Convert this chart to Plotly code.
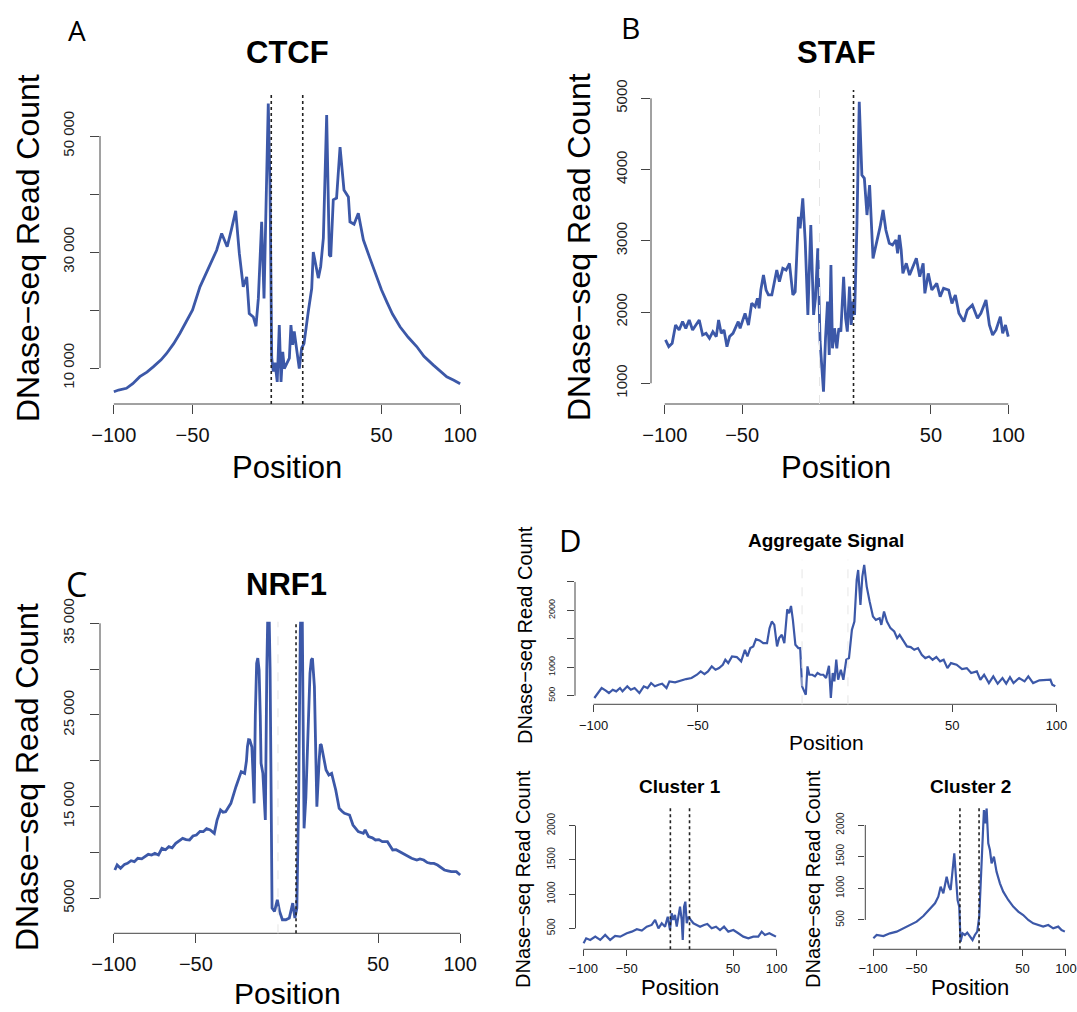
import plotly.graph_objects as go

W, H = 1077, 1012
BLUE = "#3c58a8"
AXIS = "#444444"
FONT = "Liberation Sans"
LETTER_FONT = "Open Sans"

# ---------------- data ----------------
# positions are on the plotted axis: flank -100..-1, motif 0..L, flank L..L+100
XTICK_TEXT = ["\u2212100", "\u221250", "50", "100"]

ctcf_motif_len = 20
ctcf_pos = [-100, -97, -92, -88, -83.5, -79, -75, -70, -66.5, -62, -58, -54, -50, -45.3, -42, -39, -34.7,
            -31.5, -28, -25.3, -22.6, -20.3, -17.8, -15.6, -14, -11.4, -9.7, -8.2, -6.1, -4.6, -2.9, -1.9,
            -0.8, 0.3, 1.3, 2.4, 3.8, 5.1, 6.2, 7.3, 8.3, 9.8, 11.5, 12.5, 13.6, 14.6, 16.2, 17.8, 19.3,
            20.8, 23.5, 25.7, 26.7, 28.9, 29.9, 31.4, 33.1, 35.2, 36.9, 37.8, 39.4, 41.5, 43.7, 46.2, 49,
            50, 52.6, 55.3, 58.5, 62.7, 67, 70, 73.4, 77, 81.8, 87, 92.4, 97, 103, 107, 111.5, 116, 120]
ctcf_count = [5900, 6200, 6500, 7300, 8500, 9300, 10200, 11400, 12500, 14200, 16000, 17900, 20000, 24000,
              26000, 28000, 30300, 33200, 30900, 33900, 37100, 29800, 24000, 25700, 19400, 18800, 17200,
              22000, 35200, 22000, 44400, 55600, 41500, 11700, 9400, 10900, 7600, 17400, 7600, 12800, 9900,
              10900, 11700, 17400, 14000, 16300, 12800, 9900, 13400, 14200, 19700, 23700, 30000, 26600,
              25500, 27500, 32400, 53600, 29500, 29200, 39000, 39300, 48100, 40700, 39500, 35200, 34800,
              36700, 32100, 28900, 25700, 23500, 21400, 19300, 17100, 15300, 13700, 12000, 10500, 9500,
              8500, 7900, 7300]
ctcf_yticks = [10000, 20000, 30000, 40000, 50000]
ctcf_ytext = ["10 000", "", "30 000", "", "50 000"]

staf_motif_len = 22
staf_pos = [-99.5, -97.4, -95.2, -93, -90.7, -88.5, -86.4, -84.2, -82, -79.9, -77.7, -75.5, -73.3, -71.1,
            -68.9, -66.7, -65.2, -63.5, -61.7, -59.8, -58.1, -55.9, -52.5, -51.3, -48.1, -45.9, -43.8,
            -41.6, -40.1, -39, -37.9, -36.2, -34.5, -33, -30.8, -27.6, -25.9, -23.7, -21.6, -19.4, -17.2,
            -15.7, -13.6, -12.5, -10.8, -9.2, -7.5, -5.6, -3.8, -2.6, -1.1, 0.4, 1.5, 2.6, 3.9, 5.2, 6.3,
            7.4, 8.4, 9.7, 11.2, 12.5, 13.8, 15.6, 16.9, 18, 19.4, 20.5, 21.6, 22.7, 24.2, 25.7, 27.4, 29,
            30.7, 32.4, 34.6, 37.4, 39.2, 41.1, 42.9, 45.1, 47.2, 49.4, 50.5, 51.6, 52.8, 53.9, 56.1, 58.2,
            60.4, 62.6, 64.8, 67, 68.1, 70.3, 72.6, 75.8, 78, 80.2, 83.5, 85.6, 87.8, 90.1, 93.3, 95.5,
            98.8, 102.1, 104.3, 107.6, 109.8, 111.9, 114.1, 116.9, 118.4, 120.2, 122]
staf_count = [1608, 1514, 1561, 1818, 1748, 1865, 1771, 1888, 1748, 1818, 1888, 1678, 1701, 1631, 1725,
              1655, 1888, 1701, 1748, 1514, 1655, 1701, 1865, 1772, 1982, 1818, 2123, 2076, 2193, 2053,
              2309, 2520, 2309, 2240, 2240, 2590, 2427, 2613, 2590, 2684, 2240, 2286, 3338, 3175, 3597,
              2988, 1959, 3222, 1959, 2193, 2895, 1584, 1257, 882, 1631, 2146, 1397, 2660, 1491, 1772,
              1491, 1772, 1725, 2496, 1912, 1725, 2356, 1818, 2146, 1959, 3222, 4952, 3923, 3877, 3362,
              3783, 2754, 3012, 3199, 3432, 3152, 2965, 2941, 3012, 2824, 3082, 2871, 2543, 2684, 2520,
              2637, 2754, 2496, 2684, 2262, 2543, 2309, 2403, 2216, 2333, 2309, 2122, 2239, 1982, 1865,
              2028, 2098, 1912, 1982, 2169, 1818, 1678, 1748, 1935, 1701, 1818, 1655]
staf_yticks = [1000, 2000, 3000, 4000, 5000]
staf_ytext = ["1000", "2000", "3000", "4000", "5000"]

nrf1_motif_len = 11
nrf1_pos = [-99.4, -98, -95.9, -93.5, -91.7, -89.5, -87.5, -85.4, -83, -81.2, -79, -77, -75, -72.8, -70.7,
            -68.5, -66.5, -64.5, -62.3, -60, -58.1, -56, -53.9, -51.8, -49.7, -47.5, -45.5, -43.5, -41.3,
            -38.8, -37.1, -35, -33.5, -31.9, -28.7, -25.6, -23.5, -22.4, -20.3, -19.2, -18.6, -17.9, -17.2,
            -15.9, -15.3, -14.5, -13.8, -13, -12.3, -11.5, -10.8, -10.3, -9.2, -8.4, -7.7, -6.8, -5.8, -4.8,
            -3.9, -3.6, -2.1, -0.4, 1, 2.7, 4.8, 6.9, 9, 10.3, 11.5, 12.6, 13.6, 14.6, 15.3, 15.9, 17, 18,
            19.5, 20.3, 21, 22.2, 23, 23.7, 25.1, 25.8, 26.4, 27.8, 29.3, 31, 32.7, 35.2, 37.3, 39, 40.5,
            43.6, 45.7, 48.9, 52, 53.1, 55.2, 57.5, 59.4, 61.5, 63.6, 66.7, 69.9, 72, 74.1, 76, 78.3, 81.4,
            84.6, 86.5, 88.8, 91, 93, 95, 97.2, 99.3, 101.4, 103.5, 105.6, 108.7, 110, 111]
nrf1_count = [8087, 8633, 8270, 8700, 8815, 9100, 8996, 9360, 9300, 9542, 9800, 9724, 9900, 9724, 10451,
              10300, 10633, 10500, 10997, 11300, 11542, 11400, 11360, 11800, 11905, 12300, 12269, 12600,
              12451, 12087, 13542, 14633, 14400, 14451, 15360, 17178, 18400, 18815, 18633, 20000, 21542,
              22300, 22269, 21500, 19000, 15360, 25000, 30633, 31200, 29906, 25000, 19724, 18633, 16000,
              13542, 30000, 40000, 30000, 8000, 3930, 3567, 4840, 3567, 2658, 2658, 2840, 4476, 2840, 3930,
              15905, 34087, 40000, 25000, 12633, 16000, 22269, 29542, 31000, 31178, 28087, 21000, 14996,
              20087, 21800, 21724, 20451, 18996, 18451, 18633, 16815, 14815, 14500, 14269, 14087, 12996,
              12269, 12087, 12451, 11724, 11600, 11360, 11400, 11178, 11178, 10269, 10300, 10087, 9900,
              9724, 9360, 9178, 9300, 9178, 8900, 8815, 8800, 8633, 8400, 8087, 8000, 7906, 7906, 7700, 7542]
nrf1_yticks = [5000, 10000, 15000, 20000, 25000, 30000, 35000]
nrf1_ytext = ["5000", "", "15 000", "", "25 000", "", "35 000"]

agg_motif_len = 22
agg_pos = [-99.6, -97.9, -96.1, -94.3, -92.6, -90.8, -89.1, -87.3, -86.1, -83.8, -82.1, -80.3, -78, -75.9,
           -74.1, -72.4, -70.6, -68.8, -67.1, -65, -63.6, -60.9, -58.3, -55.6, -53, -50.4, -48.6, -46.8,
           -45.1, -43.3, -41.5, -39.8, -38, -36.8, -35.4, -33.6, -31.3, -29.2, -27.4, -26.2, -24.8, -23.4,
           -22.1, -20.4, -18.6, -16.8, -15.6, -14.5, -13.3, -12, -11, -9.7, -8.5, -7.1, -6.2, -5.3, -4.4,
           -3.2, -1.8, -0.9, 0, 0.9, 1.8, 2.6, 3.5, 4.9, 6.2, 7.4, 8.8, 10.2, 11.5, 12.9, 13.8, 14.7, 15.5,
           16.4, 17.3, 18.6, 19.8, 21.2, 22.5, 23.9, 25.1, 26.2, 26.9, 28, 28.9, 29.8, 31, 32.4, 34, 35.4,
           37.2, 38, 39.3, 40.7, 42.4, 44.2, 45.6, 46.8, 48.6, 50.3, 52.1, 53.8, 55.6, 57.4, 59.1, 60.9,
           62.6, 64.4, 66.2, 67.9, 69.7, 71.4, 74.1, 76.7, 79, 81.1, 83.8, 85.5, 87.3, 89.6, 91.7, 93.8,
           96.1, 97.9, 99.7, 101.4, 104.1, 106.7, 108.5, 110.8, 113.8, 116.4, 119.1, 120, 121.4]
agg_count = [459, 547, 634, 594, 547, 605, 576, 634, 576, 664, 605, 634, 547, 664, 634, 722, 664, 693, 710,
             634, 751, 734, 769, 792, 810, 868, 927, 880, 927, 1015, 956, 985, 1044, 1132, 1073, 1190, 1179,
             1103, 1307, 1190, 1337, 1366, 1494, 1471, 1424, 1424, 1687, 1804, 1745, 1366, 1512, 1570, 1424,
             2020, 1950, 2078, 1833, 1395, 1337, 1337, 664, 576, 517, 1015, 868, 868, 839, 898, 868, 868,
             810, 1027, 459, 898, 751, 1132, 780, 956, 780, 1132, 1161, 1658, 1804, 2535, 2711, 2096, 2594,
             2799, 2418, 2155, 1892, 1833, 1862, 1745, 1979, 1804, 1687, 1629, 1512, 1570, 1454, 1366, 1354,
             1307, 1337, 1220, 1161, 1190, 1132, 1179, 1103, 1132, 985, 1073, 1044, 968, 985, 898, 927, 780,
             868, 722, 839, 710, 810, 710, 827, 722, 810, 751, 839, 722, 769, 769, 780, 693, 664]
agg_yticks = [500, 1000, 1500, 2000, 2500]
agg_ytext = ["500", "1000", "", "2000", ""]

cl1_pos = [-99.6, -96.6, -92, -86.2, -80.5, -74.8, -69.1, -63.4, -57.6, -50, -44.3, -38.5, -32.8, -27.1,
           -21.4, -17.5, -13.7, -9.9, -6.1, -3, -0.4, 1.5, 3.4, 5.3, 7.3, 9.2, 11.1, 13, 14.2, 15.7, 17.2,
           18.8, 20.7, 23.4, 26.4, 30.2, 34.1, 38.6, 42.4, 47.4, 52.4, 57, 61.6, 66.5, 72.3, 78, 83.7, 89.5,
           95.2, 100.9, 104.8, 108.6, 113.6, 117.4, 121.2]
cl1_count = [281, 354, 330, 378, 330, 403, 330, 388, 378, 427, 451, 486, 466, 524, 549, 622, 500, 573, 524,
             670, 475, 719, 622, 695, 524, 670, 816, 622, 330, 816, 889, 573, 670, 622, 573, 549, 524, 549,
             563, 500, 524, 475, 524, 451, 475, 427, 378, 354, 378, 378, 451, 403, 427, 403, 378]

cl2_pos = [-99.6, -95.8, -88.1, -80.5, -72.8, -65.1, -57.5, -49.8, -42.1, -34.5, -28.7, -24.9, -22.2, -19.1,
           -15.3, -12.6, -10.7, -8.4, -6.5, -4.6, -2.7, -0.8, 0.7, 3, 5.7, 8.4, 11.4, 14.5, 17.2, 19.9, 22.2,
           23.8, 26, 27.6, 29.1, 30.7, 32.6, 34.5, 36.4, 39.1, 42.1, 46, 49.8, 55.6, 61.3, 67.1, 72.8, 78.6,
           84.3, 90.1, 95.8, 101.6, 107.3, 113.1, 116.9, 120.7]
cl2_count = [211, 263, 247, 289, 316, 368, 421, 474, 563, 684, 763, 868, 1026, 921, 1184, 1026, 974, 1290,
             1553, 1184, 816, 711, 158, 289, 263, 300, 237, 184, 263, 316, 553, 1079, 1974, 2237, 2026, 2263,
             1711, 1605, 1395, 1500, 1263, 1079, 947, 816, 711, 632, 579, 500, 447, 421, 395, 421, 368, 395,
             342, 316]
cluster_yticks = [500, 1000, 1500, 2000]
cluster_ytext = ["500", "1000", "1500", "2000"]

# ---------------- panel layout (pixels) ----------------
panels = [
    dict(title="CTCF", letter="A", pos=ctcf_pos, cnt=ctcf_count, L=ctcf_motif_len,
         box=(100, 92, 474, 404), yr=[3793, 57586], yt=ctcf_yticks, ytx=ctcf_ytext,
         dark=[0, ctcf_motif_len], faint=[], lw=2.8, xfs=20, yfs=15, tl=9, xso=4, yso=10,
         title_xy=(287, 52), tfs=31, letter_xy=(77, 30), lfs=28,
         ylab_xy=(28, 248), ylfs=32, xlab_xy=(287, 467), xlfs=31),
    dict(title="STAF", letter="B", pos=staf_pos, cnt=staf_count, L=staf_motif_len,
         box=(651, 90, 1022, 404), yr=[709, 5117], yt=staf_yticks, ytx=staf_ytext,
         dark=[staf_motif_len], faint=[0], lw=2.8, xfs=20, yfs=15, tl=9, xso=4, yso=8,
         title_xy=(836, 52), tfs=31, letter_xy=(630, 28), lfs=30,
         ylab_xy=(579, 247), ylfs=32, xlab_xy=(836, 467), xlfs=31),
    dict(title="NRF1", letter="C", pos=nrf1_pos, cnt=nrf1_count, L=nrf1_motif_len,
         box=(100, 621.7, 474, 933.3), yr=[1182, 35174], yt=nrf1_yticks, ytx=nrf1_ytext,
         dark=[nrf1_motif_len], faint=[0], lw=2.8, xfs=20, yfs=15, tl=9, xso=4, yso=10,
         title_xy=(286, 584), tfs=31, letter_xy=(76, 584), lfs=34,
         ylab_xy=(27, 777), ylfs=32, xlab_xy=(287, 993), xlfs=30),
    dict(title="Aggregate Signal", letter="D", pos=agg_pos, cnt=agg_count, L=agg_motif_len,
         box=(575, 559.6, 1075, 704.3), yr=[348, 2893], yt=agg_yticks, ytx=agg_ytext,
         dark=[], faint=[0, agg_motif_len], lw=2.2, xfs=13, yfs=9, tl=7, xso=2, yso=8,
         title_xy=(826, 540), tfs=19, letter_xy=(570, 540), lfs=31,
         ylab_xy=(525, 635), ylfs=20, xlab_xy=(826, 742), xlfs=21),
    dict(title="Cluster 1", letter="", pos=cl1_pos, cnt=cl1_count, L=agg_motif_len,
         box=(575.5, 808.3, 784.4, 949.3), yr=[193, 2254], yt=cluster_yticks, ytx=cluster_ytext,
         dark=[0, agg_motif_len], faint=[], lw=2.2, xfs=13, yfs=10, tl=6, xso=1, yso=10,
         title_xy=(680, 786), tfs=19, letter_xy=None, lfs=0,
         ylab_xy=(523, 879), ylfs=20, xlab_xy=(680, 987), xlfs=22),
    dict(title="Cluster 2", letter="", pos=cl2_pos, cnt=cl2_count, L=agg_motif_len,
         box=(865.3, 808.3, 1073.7, 949.3), yr=[37, 2264], yt=cluster_yticks, ytx=cluster_ytext,
         dark=[0, agg_motif_len], faint=[], lw=2.2, xfs=13, yfs=10, tl=6, xso=1, yso=10,
         title_xy=(970, 786), tfs=19, letter_xy=None, lfs=0,
         ylab_xy=(813, 879), ylfs=20, xlab_xy=(970, 987), xlfs=22),
]

fig = go.Figure()
shapes, annotations = [], []
layout = {}


def pxx(x):
    return x / W


def pxy(y):
    return 1 - y / H


def text(x, y, s, size, bold=False, angle=0, family=FONT):
    annotations.append(dict(
        x=pxx(x), y=pxy(y), xref="paper", yref="paper", xanchor="center", yanchor="middle",
        text=f"<b>{s}</b>" if bold else s, showarrow=False, textangle=angle,
        font=dict(family=family, size=size, color="black")))


for i, p in enumerate(panels, start=1):
    suf = "" if i == 1 else str(i)
    xa, ya = "x" + suf, "y" + suf
    L = p["L"]
    span = 200 + L
    xticks = [-100, -50, 50 + L, 100 + L]
    x0, y0, x1, y1 = p["box"]

    fig.add_trace(go.Scatter(x=p["pos"], y=p["cnt"], mode="lines", xaxis=xa, yaxis=ya,
                             line=dict(color=BLUE, width=p["lw"]), showlegend=False, hoverinfo="skip"))

    common = dict(showgrid=False, zeroline=False, showline=False, ticks="outside", automargin=False,
                  tickcolor=AXIS, tickwidth=1, ticklen=p["tl"], fixedrange=True)
    layout["xaxis" + suf] = dict(common, domain=[pxx(x0), pxx(x1)], anchor=ya,
                                 range=[-100 - 0.04 * span, 100 + L + 0.04 * span],
                                 tickmode="array", tickvals=xticks, ticktext=XTICK_TEXT,
                                 ticklabelstandoff=p["xso"],
                                 tickfont=dict(family=FONT, size=p["xfs"], color="#111"))
    layout["yaxis" + suf] = dict(common, domain=[pxy(y1), pxy(y0)], anchor=xa, range=p["yr"],
                                 tickmode="array", tickvals=p["yt"], ticktext=p["ytx"], tickangle=-90,
                                 ticklabelstandoff=p["yso"],
                                 tickfont=dict(family=FONT, size=p["yfs"], color="#222"))

    # R-style axis lines spanning first to last tick
    shapes.append(dict(type="line", xref=xa, yref=ya + " domain", x0=xticks[0], x1=xticks[-1],
                       y0=0, y1=0, line=dict(color=AXIS, width=1)))
    shapes.append(dict(type="line", xref=xa + " domain", yref=ya, x0=0, x1=0,
                       y0=p["yt"][0], y1=p["yt"][-1], line=dict(color=AXIS, width=1)))
    # motif boundary lines
    for v in p["faint"]:
        shapes.append(dict(type="line", xref=xa, yref=ya + " domain", x0=v, x1=v, y0=0, y1=1,
                           line=dict(color="#e6e6e6", width=1, dash="dash")))
    for v in p["dark"]:
        shapes.append(dict(type="line", xref=xa, yref=ya + " domain", x0=v, x1=v, y0=0, y1=1,
                           line=dict(color="#222222", width=1.6, dash="dot")))

    text(*p["title_xy"], p["title"], p["tfs"], bold=True)
    if p["letter"]:
        text(*p["letter_xy"], p["letter"], p["lfs"], family=LETTER_FONT)
    text(*p["ylab_xy"], "DNase\u2212seq Read Count", p["ylfs"], angle=-90)
    text(*p["xlab_xy"], "Position", p["xlfs"])

fig.update_layout(**layout)
fig.update_layout(width=W, height=H, autosize=False,
                  margin=dict(l=0, r=0, t=0, b=0, pad=0, autoexpand=False),
                  paper_bgcolor="white", plot_bgcolor="white", shapes=shapes, annotations=annotations,
                  showlegend=False)

# remove the default 8px page margin so the figure sits at the window's top-left corner
fig.write_html("out.html", config={"displayModeBar": False},
               post_script="document.body.style.margin='0';document.body.style.overflow='hidden';")
